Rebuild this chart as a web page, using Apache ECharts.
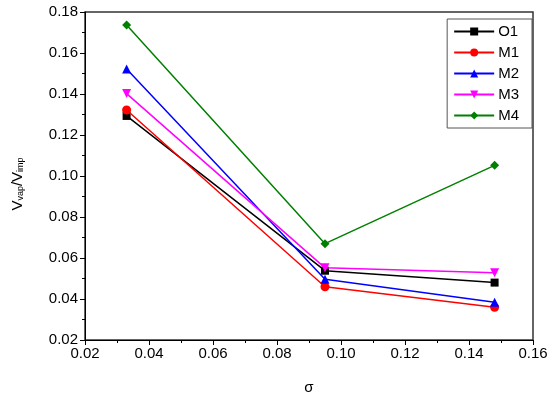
<!DOCTYPE html>
<html><head><meta charset="utf-8">
<script src="https://cdn.jsdelivr.net/npm/echarts@6/dist/echarts.min.js"></script>
<style>html,body{margin:0;padding:0;background:#fff}#c{width:550px;height:399px}</style>
</head><body><div id="c"></div>
<script>
const sigma = [0.033, 0.095, 0.148];
const O1 = [0.1293, 0.0538, 0.0480];
const M1 = [0.1322, 0.0460, 0.0360];
const M2 = [0.1522, 0.0496, 0.0384];
const M3 = [0.1402, 0.0552, 0.0528];
const M4 = [0.1737, 0.0670, 0.1052];
const seriesNames = ['O1','M1','M2','M3','M4'];
const seriesData = [O1, M1, M2, M3, M4];
const colors = ['#000000','#ff0000','#0000ff','#ff00ff','#008000'];
const symbols = ['rect','circle','triangle','path://M0,0 L10,0 L5,9 Z','diamond'];
const symbolSizes = [8,9,9,9,9];

const font = 'Liberation Sans, Arial, sans-serif';
const chart = echarts.init(document.getElementById('c'));
chart.setOption({
  animation:false,
  backgroundColor:'#fff',
  grid:{left:85,right:17,top:12,bottom:59,containLabel:false,outerBoundsMode:'none',show:true,borderColor:'#333',borderWidth:1.5,backgroundColor:'transparent'},
  legend:{
    right:18, top:19, orient:'vertical', itemGap:6, itemWidth:40, itemHeight:10,
    borderColor:'#555', borderWidth:1, padding:[5,13,5,6],
    textStyle:{fontFamily:font,fontSize:15,color:'#000',padding:[0,0,0,-1]},
    data:seriesNames
  },
  xAxis:{
    type:'value', min:0.02, max:0.16, interval:0.02,
    name:'σ', nameLocation:'middle', nameGap:40,
    nameTextStyle:{fontFamily:font,fontSize:15,color:'#000'},
    axisLine:{show:true,onZero:false,lineStyle:{color:'#000',width:1}},
    axisTick:{show:true,inside:false,length:5,lineStyle:{color:'#000'}},
    minorTick:{show:true,splitNumber:2,length:3,lineStyle:{color:'#000'}},
    splitLine:{show:false},
    axisLabel:{fontFamily:font,fontSize:15,color:'#000',margin:6,formatter:v=>v.toFixed(2)}
  },
  yAxis:{
    type:'value', min:0.02, max:0.18, interval:0.02,
    name:'{a|V}{s|vap}{a|/V}{s|imp}', nameLocation:'middle', nameGap:60, nameRotate:90,
    nameTextStyle:{fontFamily:font,color:'#000',padding:[0,16,0,0],
      rich:{a:{fontFamily:font,fontSize:15,color:'#000'},s:{fontFamily:font,fontSize:9,color:'#000',verticalAlign:'bottom',padding:[6,0,0,0]}}},
    axisLine:{show:true,onZero:false,lineStyle:{color:'#000',width:1}},
    axisTick:{show:true,inside:false,length:5,lineStyle:{color:'#000'}},
    minorTick:{show:true,splitNumber:2,length:3,lineStyle:{color:'#000'}},
    splitLine:{show:false},
    axisLabel:{fontFamily:font,fontSize:15,color:'#000',margin:7,formatter:v=>v.toFixed(2)}
  },
  series: seriesNames.map((n,i)=>({
    name:n, type:'line',
    data: sigma.map((x,j)=>[x, seriesData[i][j]]),
    symbol:symbols[i], symbolSize:symbolSizes[i], showAllSymbol:true,
    itemStyle:{color:colors[i]},
    lineStyle:{color:colors[i],width:1.5},
    z: 2+i
  }))
});
</script></body></html>
